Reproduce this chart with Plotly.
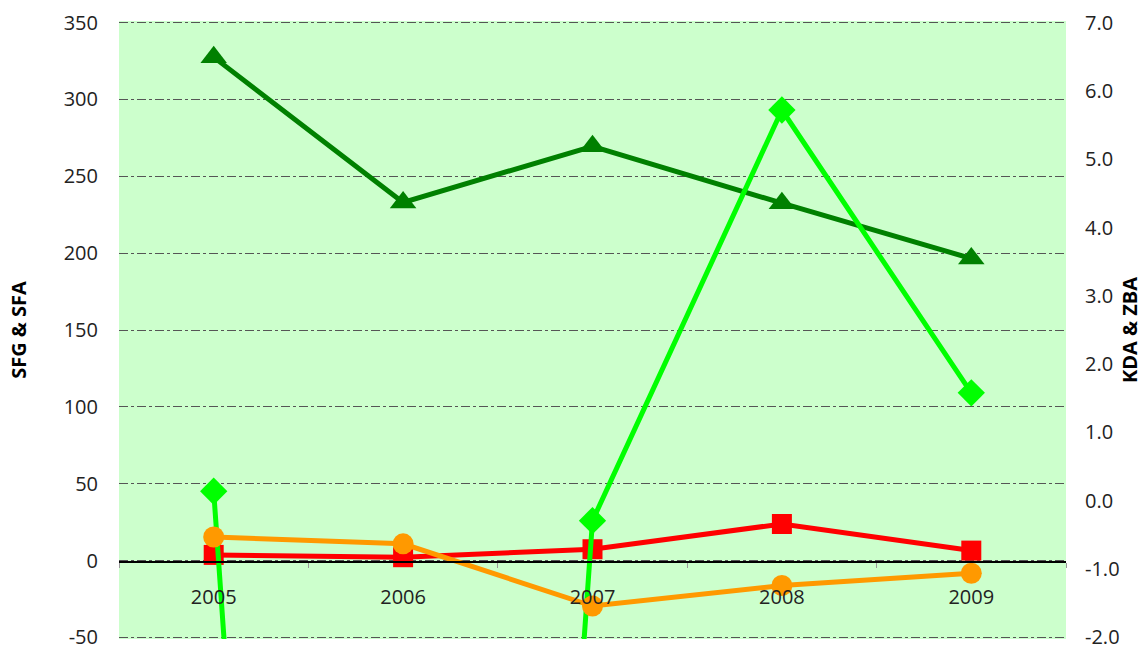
import plotly.graph_objects as go

years = ["2005", "2006", "2007", "2008", "2009"]
sfg = [327.5, 233, 269.5, 232.5, 196.5]
sfa = [3.7, 2.2, 7.4, 23.8, 6.5]
kda = [0.14, -39.5, -0.29, 5.72, 1.58]
zba = [-0.53, -0.63, -1.54, -1.24, -1.06]

left_ticks = [-50, 0, 50, 100, 150, 200, 250, 300, 350]
right_ticks = [-2, -1, 0, 1, 2, 3, 4, 5, 6, 7]
left_labels = [str(v) for v in left_ticks]
right_labels = [f"{v:.1f}" for v in right_ticks]

FONT = "Open Sans"
TXT = "#222222"

fig = go.Figure()
fig.add_trace(go.Scatter(x=years, y=sfg, name="SFG", mode="lines+markers",
                         line=dict(color="#008000", width=5),
                         marker=dict(symbol="triangle-up", size=23, color="#008000")))
fig.add_trace(go.Scatter(x=years, y=sfa, name="SFA", mode="lines+markers",
                         line=dict(color="#FF0000", width=5),
                         marker=dict(symbol="square", size=20, color="#FF0000")))
fig.add_trace(go.Scatter(x=years, y=kda, name="KDA", mode="lines+markers", yaxis="y2",
                         line=dict(color="#00FF00", width=5),
                         marker=dict(symbol="diamond", size=21, color="#00FF00")))
fig.add_trace(go.Scatter(x=years, y=zba, name="ZBA", mode="lines+markers", yaxis="y2",
                         line=dict(color="#FF9900", width=5),
                         marker=dict(symbol="circle", size=21, color="#FF9900")))

fig.update_layout(
    width=1143, height=648,
    margin=dict(l=119, r=77, t=21, b=9),
    paper_bgcolor="white",
    plot_bgcolor="#CCFFCC",
    showlegend=False,
    font=dict(family=FONT, size=20, color=TXT),
    xaxis=dict(
        type="category",
        range=[-0.5, 4.5],
        anchor="free",
        position=0.125,
        automargin=False,
        showline=True, linecolor="black", linewidth=1.5,
        ticks="outside", ticklen=5, tickcolor="#999999",
        tickson="boundaries",
        ticklabelstandoff=17,
        showgrid=False, zeroline=False,
        tickfont=dict(family=FONT, size=20, color=TXT),
    ),
    yaxis=dict(
        range=[-51, 351],
        tickvals=left_ticks,
        ticktext=left_labels,
        automargin=False,
        ticklabeloverflow="allow",
        showgrid=True, gridcolor="#555555", gridwidth=1, griddash="dashdot",
        zeroline=False, showline=False,
        ticks="",
        ticklabelstandoff=20,
        tickfont=dict(family=FONT, size=20, color=TXT),
        title=dict(text="<b>SFG & SFA</b>", font=dict(family=FONT, size=20, color="black"),
                   standoff=31),
    ),
    yaxis2=dict(
        range=[-2.0225, 7.0225],
        overlaying="y", side="right",
        tickvals=right_ticks,
        ticktext=right_labels,
        automargin=False,
        ticklabeloverflow="allow",
        showgrid=False, zeroline=False, showline=False,
        ticks="",
        ticklabelstandoff=18,
        tickfont=dict(family=FONT, size=20, color=TXT),
        title=dict(text="<b>KDA & ZBA</b>", font=dict(family=FONT, size=20, color="black"),
                   standoff=4),
    ),
)

fig.write_html("out.html",
               config={"displayModeBar": False},
               post_script="document.body.style.margin='0';document.body.style.overflow='hidden';")
